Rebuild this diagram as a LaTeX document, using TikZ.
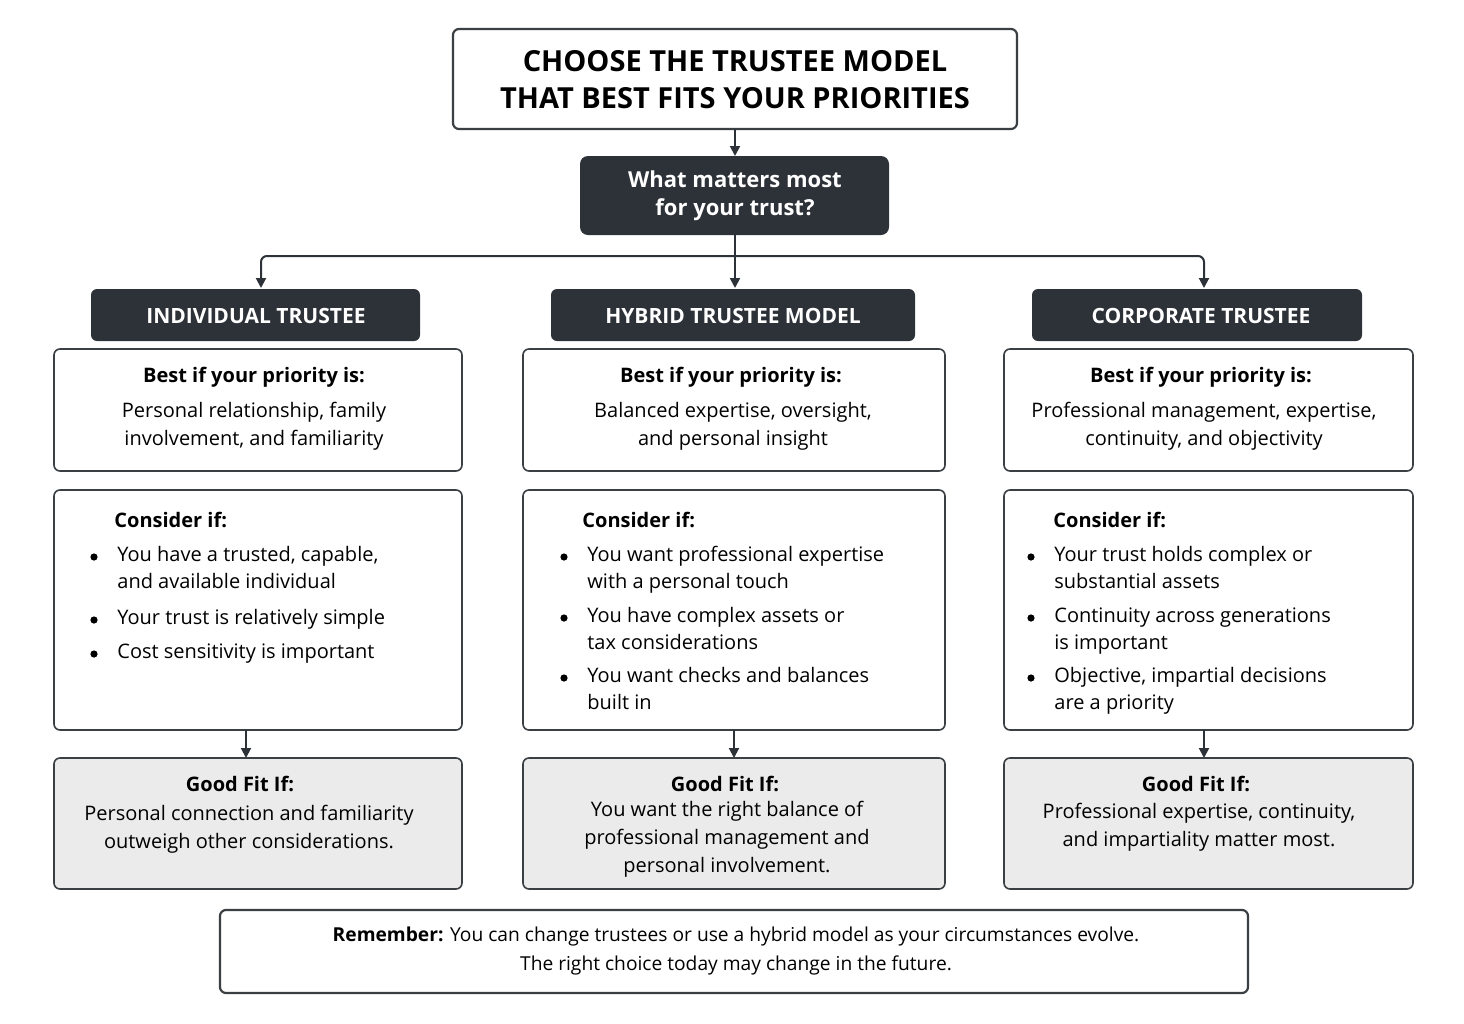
\documentclass[tikz,border=0pt]{standalone}
\usepackage{fontspec}
\setmainfont{Open Sans}
\usetikzlibrary{arrows.meta}
\definecolor{dk}{HTML}{2D3238}
\definecolor{lg}{HTML}{EBEBEB}
\definecolor{bd}{HTML}{3A3F44}
\begin{document}
\begin{tikzpicture}[x=0.5pt,y=-0.5pt,
  box/.style={draw=bd,line width=0.8pt,rounded corners=3pt,fill=white},
  dbox/.style={fill=dk,rounded corners=4pt,text=white,font=\bfseries\fontsize{11}{14}\selectfont,align=center},
  hdr/.style={fill=dk,rounded corners=3pt,text=white,font=\bfseries\fontsize{10.5}{13}\selectfont},
  body/.style={font=\fontsize{10}{14}\selectfont,align=center,text=black},
  bh/.style={font=\bfseries\fontsize{10}{14}\selectfont,text=black},
  arr/.style={-{Triangle[length=5pt,width=5pt]},line width=1pt,draw=dk}]
\useasboundingbox (0,0) rectangle (1464,1024);
\fill[white] (0,0) rectangle (1464,1024);
% title
\draw[box,line width=1.1pt] (453,29) rectangle (1017,129);
\node[font=\bfseries\fontsize{14.5}{18.5}\selectfont,align=center] (title) at (735,80) {CHOOSE THE TRUSTEE MODEL\\THAT BEST FITS YOUR PRIORITIES};
\coordinate (tb) at (735,129);
\fill[dk,rounded corners=4pt] (580,156) rectangle (889,235);
\node[dbox] (q) at (735,196) {What matters most\\for your trust?};
\coordinate (qt) at (735,156);
\coordinate (qb) at (735,235);
\draw[arr] (tb) -- (qt);
\coordinate (j) at (735,256);
\coordinate (jl) at (261,256);
\coordinate (jr) at (1204,256);
\coordinate (hl) at (261,288);
\coordinate (hm) at (735,288);
\coordinate (hr) at (1204,288);
\draw[line width=1pt,dk] (qb) -- (j);
\draw[arr,rounded corners=3pt] (j) -- (jl) -- (hl);
\draw[arr] (j) -- (hm);
\draw[arr,rounded corners=3pt] (j) -- (jr) -- (hr);
% headers
\fill[dk,rounded corners=3pt] (91,289) rectangle (420,341);
\node[hdr] (h1) at (256,316) {INDIVIDUAL TRUSTEE};
\fill[dk,rounded corners=3pt] (551,289) rectangle (915,341);
\node[hdr] (h2) at (733,316) {HYBRID TRUSTEE MODEL};
\fill[dk,rounded corners=3pt] (1032,289) rectangle (1362,341);
\node[hdr] (h3) at (1201,316) {CORPORATE TRUSTEE};
% row 1
\draw[box] (54,349) rectangle (462,471);
\draw[box] (523,349) rectangle (945,471);
\draw[box] (1004,349) rectangle (1413,471);
\node[bh] (b1) at (254,377) {Best if your priority is:};
\node[body] (p1) at (254,426) {Personal relationship, family\\involvement, and familiarity};
\node[bh] (b2) at (731,377) {Best if your priority is:};
\node[body] (p2) at (733,426) {Balanced expertise, oversight,\\and personal insight};
\node[bh] (b3) at (1201,377) {Best if your priority is:};
\node[body] (p3) at (1204,426) {Professional management, expertise,\\continuity, and objectivity};
% row 2
\draw[box] (54,490) rectangle (462,730);
\draw[box] (523,490) rectangle (945,730);
\draw[box] (1004,490) rectangle (1413,730);
\node[bh,anchor=west,inner sep=0pt] (c1) at (114,520) {Consider if:};
\node[bh,anchor=west,inner sep=0pt] (c2) at (582,520) {Consider if:};
\node[bh,anchor=west,inner sep=0pt] (c3) at (1053,520) {Consider if:};
\tikzset{bl/.style={font=\fontsize{10}{13.5}\selectfont,anchor=north west,align=left,inner sep=0pt}}
\foreach \x/\y/\t [count=\i] in {
 117/546/{You have a trusted, capable,\\and available individual},
 117/609/{Your trust is relatively simple},
 117/643/{Cost sensitivity is important},
 587/546/{You want professional expertise\\with a personal touch},
 587/607/{You have complex assets or\\tax considerations},
 587/667/{You want checks and balances\\built in},
 1054/546/{Your trust holds complex or\\substantial assets},
 1054/607/{Continuity across generations\\is important},
 1054/667/{Objective, impartial decisions\\are a priority}}{
 \node[bl] (t\i) at (\x,\y) {\t};
 \fill ({\x-23},{\y+11}) circle (1.8pt);
}
% arrows to row 3
\coordinate (a1) at (246,730); \coordinate (a1e) at (246,758);
\coordinate (a2) at (734,730); \coordinate (a2e) at (734,758);
\coordinate (a3) at (1204,730); \coordinate (a3e) at (1204,758);
\draw[arr] (a1) -- (a1e);
\draw[arr] (a2) -- (a2e);
\draw[arr] (a3) -- (a3e);
% row 3
\draw[box,fill=lg] (54,758) rectangle (462,889);
\draw[box,fill=lg] (523,758) rectangle (945,889);
\draw[box,fill=lg] (1004,758) rectangle (1413,889);
\node[bh] (g1) at (240,784) {Good Fit If:};
\node[body] (f1) at (249,829) {Personal connection and familiarity\\outweigh other considerations.};
\node[bh] (g2) at (725,784) {Good Fit If:};
\node[body] (f2) at (727,839) {You want the right balance of\\professional management and\\personal involvement.};
\node[bh] (g3) at (1196,784) {Good Fit If:};
\node[body] (f3) at (1199,827) {Professional expertise, continuity,\\and impartiality matter most.};
% remember
\draw[box,line width=1.1pt] (220,910) rectangle (1248,993);
\node[body,font=\fontsize{9.6}{14.5}\selectfont] (rem) at (736,951) {\textbf{Remember:} You can change trustees or use a hybrid model as your circumstances evolve.\\The right choice today may change in the future.};
\end{tikzpicture}
\end{document}
